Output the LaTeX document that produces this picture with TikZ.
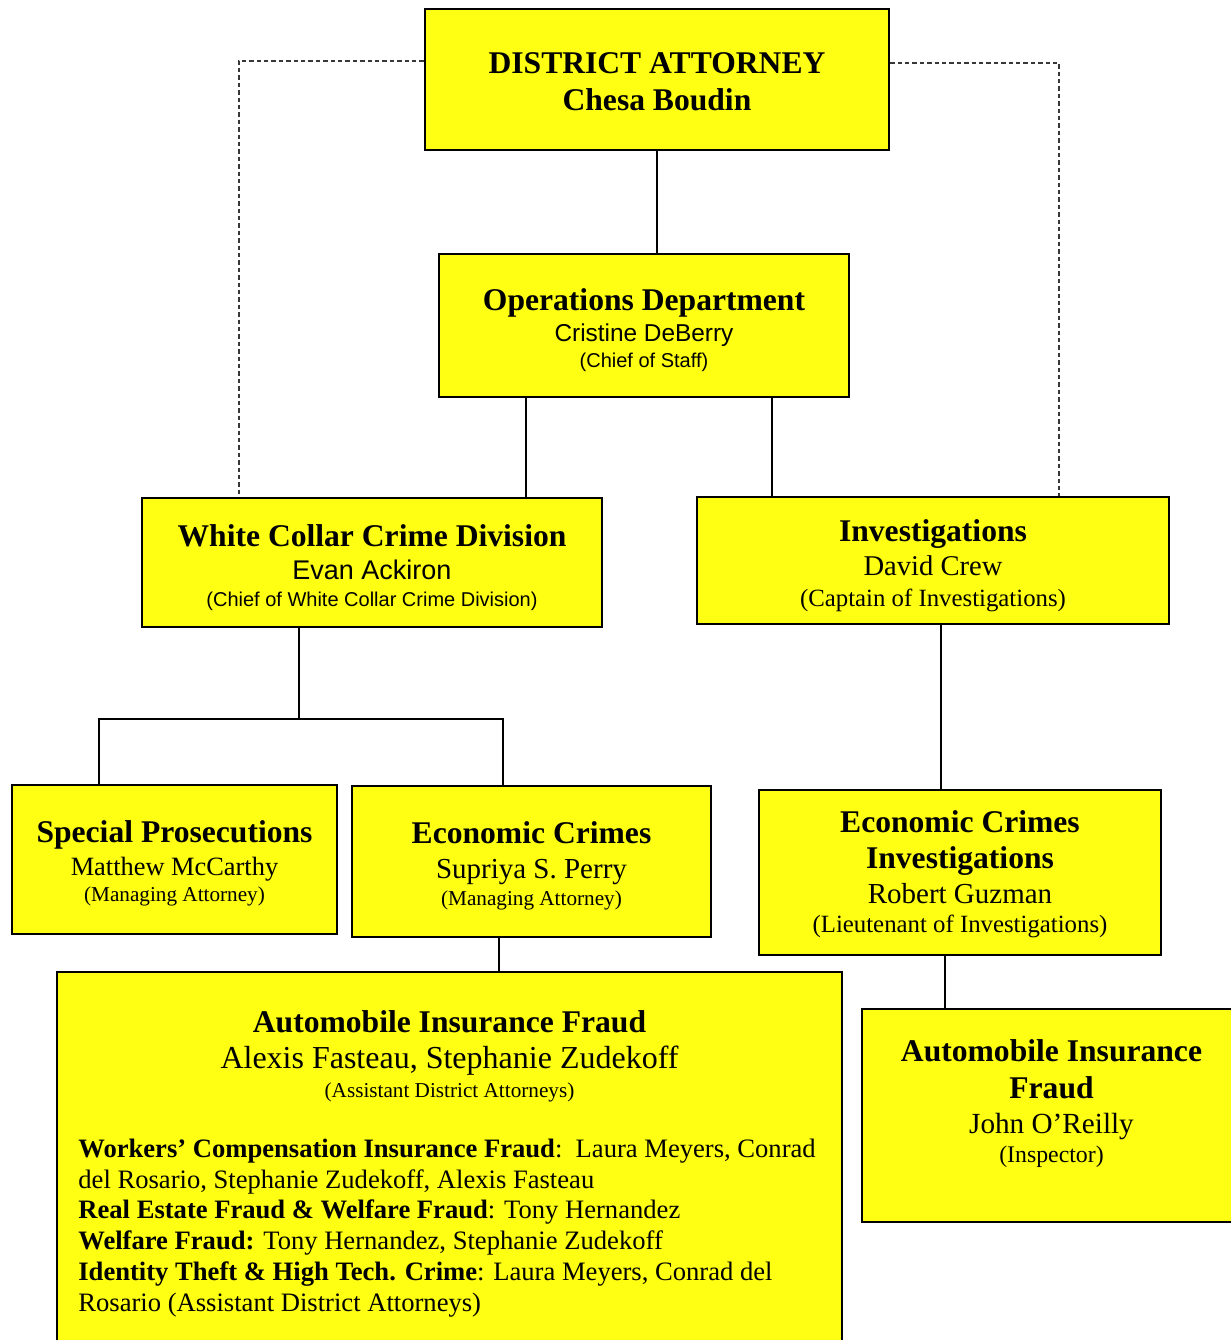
\documentclass[tikz,border=0pt]{standalone}
\usepackage{fontspec}
\setmainfont{Liberation Serif}
\newfontfamily\sansfam{Liberation Sans}
\usetikzlibrary{calc}
\definecolor{boxyellow}{RGB}{255,255,20}
\definecolor{linkgray}{RGB}{55,55,55}
\newcommand{\hd}{\fontsize{15.8}{13}\selectfont\bfseries}
\newcommand{\nm}[1]{\fontsize{#1}{13}\selectfont}
% strut on the first line, pushes the text block down a little
\newcommand{\tp}[1]{\rule{0pt}{\dimexpr10.6pt+#1pt\relax}}

\begin{document}
\begin{tikzpicture}[
  x=0.5pt, y=-0.5pt,
  orgbox/.style={
    rectangle, draw=black, fill=boxyellow, line width=1.2pt,
    align=center, inner sep=0pt,
    font={\lineskiplimit=-50pt\fontsize{12}{13}\selectfont}
  },
  boxtext/.style={
    align=center, inner sep=0pt,
    font={\lineskiplimit=-50pt\fontsize{12}{13}\selectfont}
  },
  link/.style={line width=0.9pt},
  duty/.style={line width=1pt, color=linkgray, dash pattern=on 2.2pt off 1.5pt}
]
  \useasboundingbox (0,0) rectangle (1231,1340);

  % Top of the office
  \node[orgbox, minimum width=232pt, minimum height=70.5pt] (da) at (657,79.5)
        {\tp{2}\hd DISTRICT ATTORNEY\\[5.5pt] \hd Chesa Boudin};
  \node[orgbox, minimum width=205pt, minimum height=71.5pt] (ops) at (644,325.5)
        {\tp{4.5}\hd Operations Department\\[2.5pt]
         \sansfam\nm{12.2}Cristine DeBerry\\
         \sansfam\nm{10}(Chief of Staff)};

  % Divisions
  \node[orgbox, minimum width=230pt, minimum height=64.5pt] (wcc) at (372,562.5)
        {\tp{5}\hd White Collar Crime Division\\[3.5pt]
         \sansfam\nm{13.5}Evan Ackiron\\[0.5pt]
         \sansfam\nm{10}(Chief of White Collar Crime Division)};
  \node[orgbox, minimum width=236pt, minimum height=63.5pt] (inv) at (933,560.5)
        {\tp{6}\hd Investigations\\[4pt]
         \nm{14.3}David Crew\\[2.5pt]
         \nm{12.4}(Captain of Investigations)};

  % Units
  \node[orgbox, minimum width=162.5pt, minimum height=74.5pt] (sp) at (174.5,859.5)
        {\tp{4.5}\hd Special Prosecutions\\[3.5pt]
         \nm{13.2}Matthew McCarthy\\
         \nm{10.6}(Managing Attorney)};
  \node[orgbox, minimum width=179.5pt, minimum height=75.5pt] (ec) at (531.5,861.5)
        {\tp{4.5}\hd Economic Crimes\\[4.5pt]
         \nm{14.5}Supriya S. Perry\\[0.5pt]
         \nm{10.6}(Managing Attorney)};
  \node[orgbox, minimum width=201pt, minimum height=82.5pt] (eci) at (960,872.5)
        {\tp{2.5}\hd Economic Crimes\\[5pt]
         \hd Investigations\\[4.5pt]
         \nm{14.5}Robert Guzman\\[1.5pt]
         \nm{12.4}(Lieutenant of Investigations)};

  % Fraud teams (both run past the page edge)
  \node[orgbox, minimum width=392.5pt, minimum height=194pt] (aif) at (449.5,1166) {};
  \node[boxtext] (aifhead) at (449.5,1056)
        {\hd Automobile Insurance Fraud\\[5pt]
         \nm{16}Alexis Fasteau, Stephanie Zudekoff\\[1.5pt]
         \nm{10.6}(Assistant District Attorneys)};
  \node[align=left, inner sep=0pt, anchor=west,
        font={\lineskiplimit=-50pt\fontsize{13.3}{15.4}\selectfont}] (aiflist) at (78,1228)
        {\textbf{Workers' Compensation Insurance Fraud}:\ \ Laura Meyers, Conrad\\
         del Rosario, Stephanie Zudekoff, Alexis Fasteau\\
         \textbf{Real Estate Fraud \& Welfare Fraud}: Tony Hernandez\\
         \textbf{Welfare Fraud:} Tony Hernandez, Stephanie Zudekoff\\
         \textbf{Identity Theft \& High Tech. Crime}: Laura Meyers, Conrad del\\
         Rosario (Assistant District Attorneys)};

  \node[orgbox, minimum width=189.5pt, minimum height=106.5pt] (aifb) at (1051.5,1115.5) {};
  \node[boxtext] (aifbhead) at (1051.5,1104)
        {\hd Automobile Insurance\\[5.5pt]
         \hd Fraud\\[4.5pt]
         \nm{14.6}John O'Reilly\\[1.5pt]
         \nm{11.9}(Inspector)};

  % Solid reporting lines
  \draw[link] (da.south) -- (da.south |- ops.north);
  \coordinate (opsl) at ($(ops.south)+(-118,0)$);
  \coordinate (opsr) at ($(ops.south)+(128,0)$);
  \draw[link] (opsl) -- (opsl |- wcc.north);
  \draw[link] (opsr) -- (opsr |- inv.north);

  \coordinate (wccj) at ($(wcc.south)+(-73,91)$);
  \draw[link] ($(wcc.south)+(-73,0)$) -- (wccj);
  \draw[link] ($(sp.north)+(-75.5,0)$) |- (wccj) -| ($(ec.north)+(-28.5,0)$);

  \coordinate (invd) at ($(inv.south)+(8,0)$);
  \draw[link] (invd) -- (invd |- eci.north);
  \coordinate (ecd) at ($(ec.south)+(-32.5,0)$);
  \draw[link] (ecd) -- (ecd |- aif.north);
  \coordinate (ecid) at ($(eci.south)+(-15,0)$);
  \draw[link] (ecid) -- (ecid |- aifb.north);

  % Dashed lines from the DA
  \coordinate (dal) at ($(da.west)+(0,-19)$);
  \coordinate (dar) at ($(da.east)+(0,-17)$);
  \draw[duty] (dal) -| ($(wcc.north west)+(98,0)$);
  \draw[duty] (dar) -| ($(inv.north west)+(363,0)$);
\end{tikzpicture}
\end{document}
